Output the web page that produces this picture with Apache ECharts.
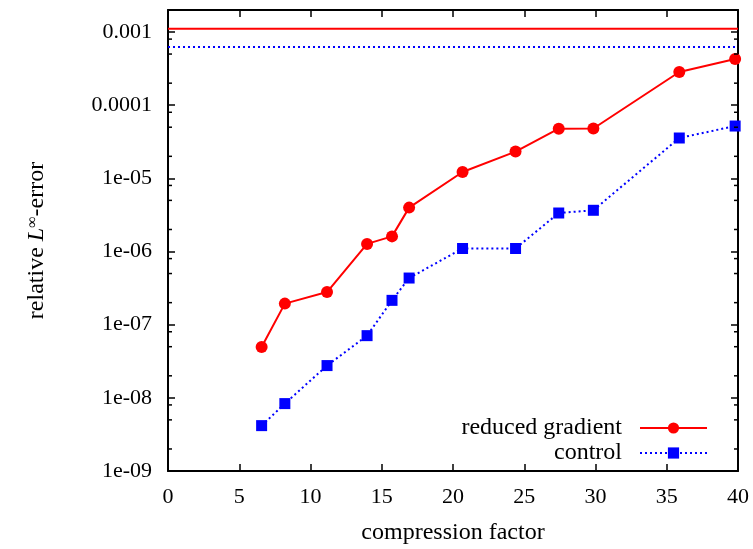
<!DOCTYPE html>
<html>
<head>
<meta charset="utf-8">
<script src="https://cdn.jsdelivr.net/npm/echarts@6/dist/echarts.min.js"></script>
<style>
html,body{margin:0;padding:0;background:#fff;}
#chart{width:753px;height:549px;}
</style>
</head>
<body>
<div id="chart"></div>
<script>
// ---- data ----
const xRed = [6.57, 8.2, 11.16, 13.97, 15.72, 16.92, 20.67, 24.39, 27.42, 29.85, 35.88, 39.8];
const yRed = [4.95e-8, 1.94e-7, 2.79e-7, 1.27e-6, 1.61e-6, 3.98e-6, 1.22e-5, 2.32e-5, 4.78e-5, 4.80e-5, 2.84e-4, 4.27e-4];
const xBlue = [6.57, 8.2, 11.16, 13.97, 15.72, 16.92, 20.67, 24.39, 27.42, 29.85, 35.88, 39.8];
const yBlue = [4.17e-9, 8.34e-9, 2.76e-8, 7.08e-8, 2.15e-7, 4.34e-7, 1.10e-6, 1.10e-6, 3.36e-6, 3.66e-6, 3.56e-5, 5.19e-5];
const refRed = 1.11e-3;
const refBlue = 6.24e-4;
const seriesNames = ['reduced gradient', 'control'];
const xTickLabels = ['0', '5', '10', '15', '20', '25', '30', '35', '40'];
const yTickValues = [1e-9, 1e-8, 1e-7, 1e-6, 1e-5, 1e-4, 1e-3];
const yTickLabels = ['1e-09', '1e-08', '1e-07', '1e-06', '1e-05', '0.0001', '0.001'];
const yMinorTicks = [2e-9, 5e-9, 8e-9, 2e-8, 5e-8, 8e-8, 2e-7, 5e-7, 8e-7, 2e-6, 5e-6, 8e-6,
                     2e-5, 5e-5, 8e-5, 2e-4, 5e-4, 8e-4];
const xMin = 0, xMax = 40, xStep = 5;
const yMin = 1e-9, yMax = 2e-3;

const FONT = 'Liberation Serif';
const FS = 22;   // tick labels
const FT = 24;   // titles and legend

function yLabel(v) {
  for (let i = 0; i < yTickValues.length; i++) {
    if (Math.abs(Math.log10(v) - Math.log10(yTickValues[i])) < 1e-6) return yTickLabels[i];
  }
  return '';
}
function xLabel(v) {
  const i = Math.round((v - xMin) / xStep);
  return xTickLabels[i] !== undefined ? xTickLabels[i] : '';
}

const axisLine = { show: true, onZero: false, lineStyle: { color: '#000', width: 2 } };
const axisTick = { show: true, inside: true, length: 7, lineStyle: { color: '#000', width: 1.5 } };

const chart = echarts.init(document.getElementById('chart'), null, { renderer: 'canvas' });
chart.setOption({
  animation: false,
  backgroundColor: '#fff',
  grid: { left: 168, right: 15, top: 10, bottom: 78, outerBoundsMode: 'none', containLabel: false },
  xAxis: [
    {
      type: 'value', min: xMin, max: xMax, interval: xStep, position: 'bottom',
      axisLine, axisTick, splitLine: { show: false },
      axisLabel: { formatter: xLabel, fontFamily: FONT, fontSize: FS, color: '#000', margin: 15 },
      name: 'compression factor', nameLocation: 'middle', nameGap: 50,
      nameTextStyle: { fontFamily: FONT, fontSize: FT, color: '#000' }
    },
    {
      type: 'value', min: xMin, max: xMax, interval: xStep, position: 'top',
      axisLine, axisTick, splitLine: { show: false }, axisLabel: { show: false }
    }
  ],
  yAxis: [
    {
      type: 'log', logBase: 10, min: yMin, max: yMax, position: 'left',
      axisLine, axisTick, splitLine: { show: false }, minorTick: { show: false },
      axisLabel: { formatter: yLabel, fontFamily: FONT, fontSize: FS, color: '#000', margin: 16, showMaxLabel: false },
      name: '{a|relative }{i|L}{s|∞}{a|-error}', nameLocation: 'middle', nameGap: 119,
      nameTextStyle: {
        fontFamily: FONT, fontSize: FT, color: '#000',
        rich: {
          a: { fontFamily: FONT, fontSize: FT, color: '#000' },
          i: { fontFamily: FONT, fontSize: FT, color: '#000', fontStyle: 'italic' },
          s: { fontFamily: FONT, fontSize: 16, color: '#000', verticalAlign: 'top' }
        }
      }
    },
    {
      type: 'log', logBase: 10, min: yMin, max: yMax, position: 'right',
      axisLine, axisTick, splitLine: { show: false }, axisLabel: { show: false }
    }
  ],
  legend: [
    {
      data: [seriesNames[0]], orient: 'vertical', right: 45, top: 416, padding: 0,
      align: 'right', itemWidth: 67, itemHeight: 14,
      textStyle: { fontFamily: FONT, fontSize: FT, color: '#000', padding: [0, 13, 0, 0] }
    },
    {
      data: [seriesNames[1]], orient: 'vertical', right: 45, top: 441, padding: 0,
      align: 'right', itemWidth: 67, itemHeight: 14,
      textStyle: { fontFamily: FONT, fontSize: FT, color: '#000', padding: [0, 13, 0, 0] }
    }
  ],
  series: [
    {
      name: 'refRed', type: 'line', xAxisIndex: 0, yAxisIndex: 0,
      data: [[xMin, refRed], [xMax, refRed]], symbol: 'none', silent: true,
      lineStyle: { color: '#ff0000', width: 2, type: 'solid' }, z: 2
    },
    {
      name: 'refBlue', type: 'line', xAxisIndex: 0, yAxisIndex: 0,
      data: [[xMin, refBlue], [xMax, refBlue]], symbol: 'none', silent: true,
      lineStyle: { color: '#0000ff', width: 2, type: [2, 3] }, z: 2
    },
    {
      name: seriesNames[0], type: 'line', xAxisIndex: 0, yAxisIndex: 0,
      data: xRed.map((x, i) => [x, yRed[i]]),
      symbol: 'circle', symbolSize: 12, color: '#ff0000',
      itemStyle: { color: '#ff0000' },
      lineStyle: { color: '#ff0000', width: 2 },
      z: 3
    },
    {
      name: seriesNames[1], type: 'line', xAxisIndex: 0, yAxisIndex: 0,
      data: xBlue.map((x, i) => [x, yBlue[i]]),
      symbol: 'rect', symbolSize: 11, color: '#0000ff',
      itemStyle: { color: '#0000ff' },
      lineStyle: { color: '#0000ff', width: 2, type: [2, 3] },
      z: 3
    },
    {
      type: 'custom', xAxisIndex: 0, yAxisIndex: 0, silent: true, clip: false, z: 5,
      data: yMinorTicks.map(v => [xMin, v]),
      renderItem: function (params, api) {
        const v = api.value(1);
        const p1 = api.coord([xMin, v]);
        const p2 = api.coord([xMax, v]);
        const st = { stroke: '#000', lineWidth: 1.5 };
        return {
          type: 'group',
          children: [
            { type: 'line', shape: { x1: p1[0], y1: p1[1], x2: p1[0] + 4, y2: p1[1] }, style: st },
            { type: 'line', shape: { x1: p2[0], y1: p2[1], x2: p2[0] - 4, y2: p2[1] }, style: st }
          ]
        };
      }
    }
  ]
});
</script>
</body>
</html>
